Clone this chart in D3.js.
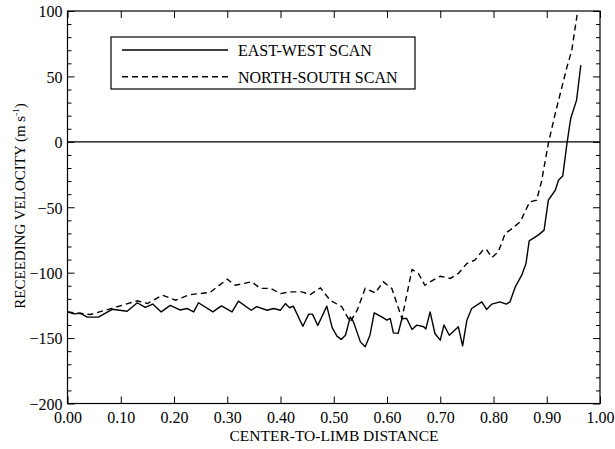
<!DOCTYPE html>
<html>
<head>
<meta charset="utf-8">
<script src="https://cdn.jsdelivr.net/npm/d3@7"></script>
</head>
<body style="margin:0; background:#fff">
<svg id="chart" width="615" height="449" font-family="Liberation Serif"></svg>
<script>
"use strict";

// east-west scan
const ewDist = [0.000, 0.012, 0.024, 0.037, 0.058, 0.084, 0.112, 0.131, 0.146, 0.160,
  0.176, 0.193, 0.211, 0.225, 0.237, 0.246, 0.273, 0.289, 0.309, 0.321,
  0.345, 0.355, 0.375, 0.387, 0.400, 0.409, 0.417, 0.424, 0.442, 0.453,
  0.460, 0.470, 0.487, 0.497, 0.506, 0.514, 0.522, 0.531, 0.537, 0.550,
  0.559, 0.568, 0.576, 0.590, 0.600, 0.606, 0.612, 0.621, 0.628, 0.637,
  0.647, 0.656, 0.669, 0.673, 0.681, 0.690, 0.700, 0.707, 0.717, 0.734,
  0.742, 0.750, 0.759, 0.778, 0.787, 0.797, 0.812, 0.824, 0.831, 0.841,
  0.853, 0.861, 0.867, 0.884, 0.895, 0.903, 0.916, 0.922, 0.930, 0.938,
  0.945, 0.956, 0.964];
const ewVel = [-130, -131.5, -131, -134, -134, -128, -129.5, -123, -126.6, -124,
  -130, -125, -128.5, -127.4, -130, -123, -130, -125.4, -130, -121.8,
  -128.7, -126, -128.7, -127.4, -128.7, -123.6, -126.8, -125.6, -141, -131.7,
  -131.7, -140.4, -125.6, -142, -148.5, -151, -147.8, -133.8, -137.6, -152.9,
  -156.7, -147.8, -130.7, -133.8, -136.3, -135, -146, -146.4, -135, -135,
  -143.4, -140.1, -141.3, -143, -130, -146.5, -151.6, -140, -147.8, -141.4,
  -156, -136.3, -127.4, -122.3, -128.1, -124, -122.3, -124, -122.3, -110.8,
  -101.9, -93, -75.7, -71.3, -67.5, -44.6, -37, -29.3, -26.2, -1.2,
  17.9, 31.9, 58.6];

// north-south scan
const nsDist = [0.000, 0.021, 0.043, 0.077, 0.131, 0.150, 0.178, 0.203, 0.228, 0.268,
  0.300, 0.315, 0.346, 0.362, 0.381, 0.400, 0.418, 0.440, 0.456, 0.475,
  0.493, 0.515, 0.531, 0.544, 0.559, 0.578, 0.593, 0.609, 0.628, 0.647,
  0.659, 0.671, 0.681, 0.700, 0.719, 0.734, 0.750, 0.765, 0.781, 0.787,
  0.797, 0.809, 0.822, 0.831, 0.850, 0.862, 0.868, 0.881, 0.890, 0.903,
  0.916, 0.938, 0.947, 0.957];
const nsVel = [-130, -131, -132, -128, -121.5, -123.6, -117.2, -121, -117, -115,
  -105, -109.6, -107, -112, -112, -116, -114.7, -114.7, -116.7, -111.6,
  -121, -126, -137.6, -128.7, -112, -115.4, -107, -112, -135, -97.6,
  -100.6, -109.6, -107, -102.7, -104.4, -100.6, -93, -90.4, -82.3, -82.3,
  -88.4, -84.1, -70, -67.5, -61.2, -51, -45.9, -44.6, -30.6, -1.2,
  21.7, 57.3, 70, 97];

const xTicks = [0, 0.1, 0.2, 0.3, 0.4, 0.5, 0.6, 0.7, 0.8, 0.9, 1.0];
const yTicks = [-200, -150, -100, -50, 0, 50, 100];
const yMinor = d3.range(-190, 100, 10).filter(v => v % 50 !== 0);

const legendLabels = ['EAST-WEST SCAN', 'NORTH-SOUTH SCAN'];

(function () {
  const font = 'Liberation Serif';
  const svg = d3.select('#chart');
  const left = 67.5, right = 600, top = 11, bottom = 403.5;

  const x = d3.scaleLinear().domain([0, 1]).range([left, right]);
  const y = d3.scaleLinear().domain([-200, 100]).range([bottom, top]);

  // d3 puts font-family="sans-serif" on the axis group, take it back off
  function styleAxis(g) {
    g.attr('font-family', font).attr('font-size', 16);
    g.select('.domain').remove();
    g.selectAll('line').attr('stroke', '#000');
    g.selectAll('text').attr('font-family', font).attr('fill', '#000');
  }

  // frame
  svg.append('rect')
    .attr('x', left).attr('y', top)
    .attr('width', right - left).attr('height', bottom - top)
    .attr('fill', 'none').attr('stroke', '#000').attr('stroke-width', 1.2);

  // bottom / top axes
  svg.append('g')
    .attr('transform', 'translate(0,' + bottom + ')')
    .call(d3.axisBottom(x).tickValues(xTicks).tickFormat(d3.format('.2f'))
      .tickSize(-7).tickPadding(8))
    .call(styleAxis);

  svg.append('g')
    .attr('transform', 'translate(0,' + top + ')')
    .call(d3.axisTop(x).tickValues(xTicks).tickFormat('').tickSize(-7))
    .call(styleAxis);

  // left / right axes
  svg.append('g')
    .attr('transform', 'translate(' + left + ',0)')
    .call(d3.axisLeft(y).tickValues(yTicks).tickFormat(d3.format('d'))
      .tickSize(-7).tickPadding(5))
    .call(styleAxis)
    .call(g => g.selectAll('text').attr('dy', '0.36em'));

  svg.append('g')
    .attr('transform', 'translate(' + left + ',0)')
    .call(d3.axisLeft(y).tickValues(yMinor).tickFormat('').tickSize(-4))
    .call(styleAxis);

  svg.append('g')
    .attr('transform', 'translate(' + right + ',0)')
    .call(d3.axisRight(y).tickValues(yTicks).tickFormat('').tickSize(-7))
    .call(styleAxis);

  svg.append('g')
    .attr('transform', 'translate(' + right + ',0)')
    .call(d3.axisRight(y).tickValues(yMinor).tickFormat('').tickSize(-4))
    .call(styleAxis);

  // zero line
  svg.append('line')
    .attr('x1', left).attr('x2', right)
    .attr('y1', y(0)).attr('y2', y(0))
    .attr('stroke', '#000').attr('stroke-width', 1.2);

  const line = d3.line()
    .x(d => x(d[0]))
    .y(d => y(d[1]));

  svg.append('path')
    .datum(ewDist.map((d, i) => [d, ewVel[i]]))
    .attr('d', line)
    .attr('fill', 'none').attr('stroke', '#000').attr('stroke-width', 1.4)
    .attr('stroke-linejoin', 'round');

  svg.append('path')
    .datum(nsDist.map((d, i) => [d, nsVel[i]]))
    .attr('d', line)
    .attr('fill', 'none').attr('stroke', '#000').attr('stroke-width', 1.4)
    .attr('stroke-dasharray', '6,4');

  // legend
  const lg = svg.append('g');
  lg.append('rect')
    .attr('x', 111).attr('y', 37).attr('width', 304).attr('height', 52)
    .attr('fill', '#fff').attr('stroke', '#000').attr('stroke-width', 1.2);

  legendLabels.forEach(function (lab, i) {
    const ly = 50 + i * 26.7;
    lg.append('line')
      .attr('x1', 122).attr('x2', 228).attr('y1', ly).attr('y2', ly)
      .attr('stroke', '#000').attr('stroke-width', 1.4)
      .attr('stroke-dasharray', i === 1 ? '6,4' : null);
    lg.append('text')
      .attr('x', 238).attr('y', ly + 5.8)
      .attr('font-family', font)
      .attr('font-size', 16)
      .text(lab);
  });

  // axis titles
  svg.append('text')
    .attr('x', 334).attr('y', 441)
    .attr('text-anchor', 'middle')
    .attr('font-family', font)
    .attr('font-size', 15.5)
    .text('CENTER-TO-LIMB DISTANCE');

  const yt = svg.append('text')
    .attr('transform', 'translate(25,206) rotate(-90)')
    .attr('text-anchor', 'middle')
    .attr('font-family', font)
    .attr('font-size', 15);
  yt.append('tspan').text('RECEEDING VELOCITY (m s');
  yt.append('tspan').attr('font-size', 9).attr('dy', -6).text('-1');
  yt.append('tspan').attr('dy', 6).text(')');
})();
</script>
</body>
</html>
